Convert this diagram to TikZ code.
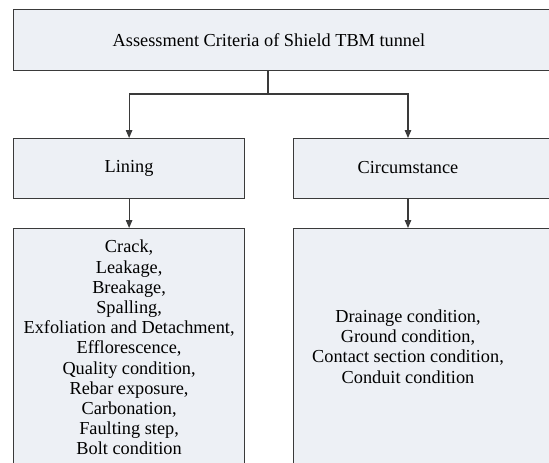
\documentclass[tikz,border=0pt]{standalone}
\usepackage{fontspec}
\setmainfont{Liberation Serif}
\usetikzlibrary{arrows.meta}
\definecolor{boxfill}{HTML}{EDF0F5}
\definecolor{edge}{HTML}{3A3A3A}
\begin{document}
\begin{tikzpicture}[x=1pt,y=-1pt,
  box/.style={draw=edge,fill=boxfill,line width=1.2pt,rectangle,inner sep=0pt,anchor=north west},
  txt/.style={font=\fontsize{18.3}{20.2}\selectfont,align=center,inner sep=0pt},
  conn/.style={draw=edge,line width=1.1pt},
  arr/.style={conn,-{Triangle[width=6.5pt,length=8pt]}}]
\useasboundingbox (0,0) rectangle (549,463);
\clip (0,0) rectangle (549,463);
% boxes
\node[box,minimum width=600pt,minimum height=60.5pt] (top) at (13,9) {};
\node[box,minimum width=231pt,minimum height=60pt] (lining) at (13,138) {};
\node[box,minimum width=300pt,minimum height=60pt] (circ) at (293,138) {};
\node[box,minimum width=231pt,minimum height=238pt,txt] (lindet) at (13,228) {Crack,\\Leakage,\\Breakage,\\Spalling,\\Exfoliation and Detachment,\\Efflorescence,\\Quality condition,\\Rebar exposure,\\Carbonation,\\Faulting step,\\Bolt condition};
\node[box,minimum width=300pt,minimum height=238pt] (circdet) at (293,228) {};
% texts
\node[txt] (toptext) at (269,40) {Assessment Criteria of Shield TBM tunnel};
\node[txt] (lintext) at (lining.center) {Lining};
\node[txt] (circtext) at (408,168) {Circumstance};
\node[txt] (circdettext) at (408,346.5) {Drainage condition,\\Ground condition,\\Contact section condition,\\Conduit condition};
% connectors
\coordinate (split) at (268,94);
\draw[conn] (split |- top.south) -- (split);
\draw[arr] (split) -| (lining.north);
\draw[arr] (split) -| (circtext |- circ.north);
\draw[arr] (lining.south) -- (lindet.north);
\draw[arr] (circtext |- circ.south) -- (circtext |- circdet.north);
\end{tikzpicture}
\end{document}
